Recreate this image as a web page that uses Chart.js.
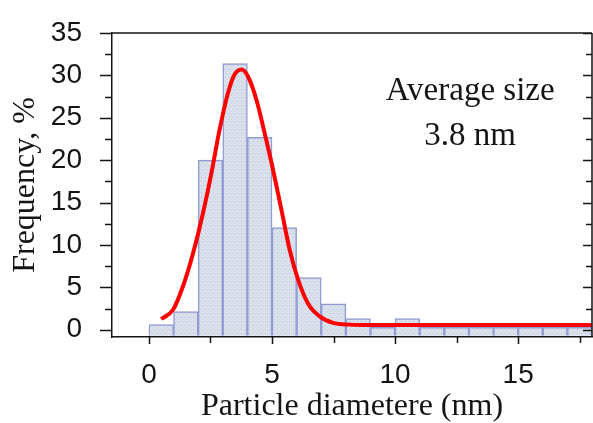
<!DOCTYPE html>
<html>
<head>
<meta charset="utf-8">
<script src="https://cdn.jsdelivr.net/npm/chart.js@4.4.1/dist/chart.umd.min.js"></script>
<style>
  html, body { margin: 0; padding: 0; background: #ffffff; }
  #wrap { width: 593px; height: 423px; }
</style>
</head>
<body>
<div id="wrap"><canvas id="c" width="593" height="423"></canvas></div>
<script>
// ---- data ----
const binCenters = [0.5, 1.5, 2.5, 3.5, 4.5, 5.5, 6.5, 7.5, 8.5, 9.5, 10.5, 11.5, 12.5, 13.5, 14.5, 15.5, 16.5, 17.5];
const frequency  = [0.6, 2.15, 20.0, 31.4, 22.7, 12.05, 6.15, 3.05, 1.3, 0.27, 1.3, 0.27, 0.27, 0.27, 0.27, 0.27, 0.27, 0.27];
const fitX = [0.5, 0.98, 1.38, 1.79, 2.2, 2.54, 2.87, 3.21, 3.48, 3.76, 4.02, 4.37, 4.7, 5.04, 5.38, 5.72, 6.06, 6.46, 6.94, 7.48, 8.16, 9.0, 10.0, 12.0, 14.0, 16.0, 18.0];
const fitY = [1.26, 2.36, 5.1, 9.0, 13.8, 18.5, 23.6, 27.9, 30.1, 30.7, 29.9, 27.1, 23.2, 18.9, 14.2, 9.4, 5.9, 3.1, 1.57, 0.8, 0.6, 0.55, 0.55, 0.55, 0.55, 0.55, 0.55];
const xTickLabels = ['0', '5', '10', '15'];
const yTickLabels = ['0', '5', '10', '15', '20', '25', '30', '35'];
const annotationLines = ['Average size', '3.8 nm'];
const annotationPos = { x: 13.05, y: [28.1, 22.8] };
const xTitle = 'Particle diametere (nm)';
const yTitle = 'Frequency, %';

// ---- styles ----
const serif = "'Liberation Serif', 'Times New Roman', serif";
const sans = "'Liberation Sans', Arial, sans-serif";
const ink = '#141414';

function makePattern() {
  const p = document.createElement('canvas');
  p.width = 4; p.height = 4;
  const g = p.getContext('2d');
  g.fillStyle = 'rgb(220,226,235)';
  g.fillRect(0, 0, 4, 4);
  g.fillStyle = 'rgb(176,186,218)';
  g.fillRect(1, 1, 1, 1);
  g.fillStyle = 'rgb(198,206,228)';
  g.fillRect(3, 3, 1, 1);
  return document.getElementById('c').getContext('2d').createPattern(p, 'repeat');
}

const framePlugin = {
  id: 'frame',
  afterDraw(chart) {
    const ctx = chart.ctx;
    const { left, right, top, bottom } = chart.chartArea;
    const xs = chart.scales.x, ys = chart.scales.y;
    ctx.save();
    ctx.strokeStyle = ink;
    ctx.lineWidth = 1.5;
    ctx.beginPath();
    ctx.moveTo(left, top); ctx.lineTo(right, top);
    ctx.moveTo(right, top); ctx.lineTo(right, bottom);
    ys.ticks.forEach(t => {
      const py = Math.round(ys.getPixelForValue(t.value)) + 0.5;
      const major = Math.abs(t.value % 5) < 1e-6;
      ctx.moveTo(left - (major ? 12 : 7), py); ctx.lineTo(left, py);
      ctx.moveTo(right - (major ? 9 : 6), py); ctx.lineTo(right, py);
    });
    xs.ticks.forEach(t => {
      const px = Math.round(xs.getPixelForValue(t.value)) + 0.5;
      const major = Math.abs(t.value % 5) < 1e-6;
      ctx.moveTo(px, bottom); ctx.lineTo(px, bottom + (major ? 7 : 6));
    });
    ctx.stroke();
    // annotation text
    ctx.fillStyle = ink;
    ctx.font = '33px ' + serif;
    ctx.textAlign = 'center';
    ctx.textBaseline = 'middle';
    annotationLines.forEach((s, i) => {
      ctx.fillText(s, xs.getPixelForValue(annotationPos.x), ys.getPixelForValue(annotationPos.y[i]));
    });
    ctx.restore();
  }
};

const barData = binCenters.map((x, i) => ({ x: x, y: frequency[i] }));
const fitData = fitX.map((x, i) => ({ x: x, y: fitY[i] }));

new Chart(document.getElementById('c'), {
  type: 'bar',
  data: {
    datasets: [
      {
        type: 'line',
        data: fitData,
        borderColor: '#ff0000',
        borderWidth: 4,
        pointRadius: 0,
        cubicInterpolationMode: 'monotone',
        fill: false,
        order: 0
      },
      {
        type: 'bar',
        data: barData,
        base: -0.7,
        backgroundColor: makePattern(),
        borderColor: 'rgb(145,155,212)',
        borderWidth: 1.5,
        borderSkipped: 'start',
        barPercentage: 1.0,
        categoryPercentage: 1.0,
        order: 1
      }
    ]
  },
  options: {
    responsive: false,
    animation: false,
    events: [],
    layout: { padding: { top: 33, right: 1, left: 0, bottom: 0 } },
    plugins: { legend: { display: false }, tooltip: { enabled: false } },
    scales: {
      x: {
        type: 'linear',
        min: -1.5,
        max: 18,
        offset: false,
        grid: { display: false },
        border: { display: true, color: ink, width: 1.5 },
        ticks: {
          stepSize: 2.5,
          includeBounds: false,
          autoSkip: false,
          maxRotation: 0,
          minRotation: 0,
          padding: 13,
          color: ink,
          font: { family: sans, size: 28 },
          callback: (v) => (Math.abs(v % 5) < 1e-6 ? xTickLabels[Math.round(v / 5)] : '')
        },
        title: {
          display: true,
          text: xTitle,
          color: ink,
          font: { family: serif, size: 32, lineHeight: 1.0 },
          padding: { top: 0, bottom: 0 }
        },
        afterFit: (s) => { s.height = 86; s.paddingLeft = 0; s.paddingRight = 0; }
      },
      y: {
        type: 'linear',
        min: -0.86,
        max: 35,
        grid: { display: false },
        border: { display: true, color: ink, width: 1.5 },
        ticks: {
          stepSize: 2.5,
          includeBounds: false,
          autoSkip: false,
          padding: 22,
          color: ink,
          font: { family: sans, size: 28 },
          callback: (v) => (Math.abs(v % 5) < 1e-6 ? yTickLabels[Math.round(v / 5)] : '')
        },
        title: {
          display: true,
          text: yTitle,
          color: ink,
          font: { family: serif, size: 32 },
          padding: { top: 6, bottom: 0 }
        },
        afterFit: (s) => { s.width = 112; s.paddingTop = 0; s.paddingBottom = 0; }
      }
    }
  },
  plugins: [framePlugin]
});
</script>
</body>
</html>
